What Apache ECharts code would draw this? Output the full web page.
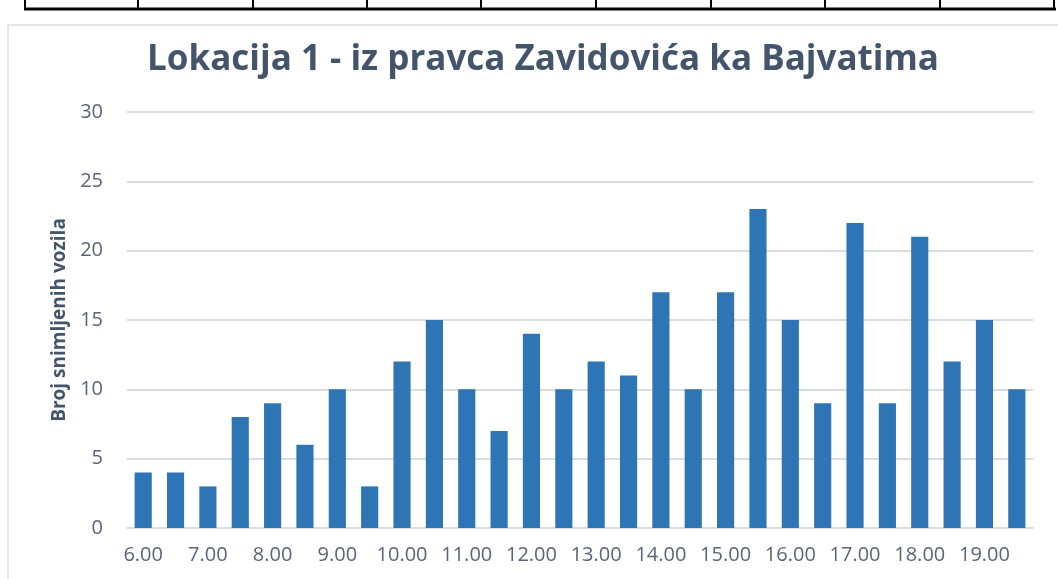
<!DOCTYPE html>
<html>
<head>
<meta charset="utf-8">
<script src="https://cdn.jsdelivr.net/npm/echarts@6/dist/echarts.min.js"></script>
<style>
  html, body { margin: 0; padding: 0; background: #fff; }
  #main { width: 1058px; height: 579px; }
</style>
</head>
<body>
<div id="main"></div>
<script>
// vremena (po pola sata) i broj vozila
var times = ['6.00','6.30','7.00','7.30','8.00','8.30','9.00','9.30','10.00','10.30',
  '11.00','11.30','12.00','12.30','13.00','13.30','14.00','14.30','15.00','15.30',
  '16.00','16.30','17.00','17.30','18.00','18.30','19.00','19.30'];
var vehicles = [4,4,3,8,9,6,10,3,12,15,10,7,14,10,12,11,17,10,17,23,15,9,22,9,21,12,15,10];
var yTicks = [0,5,10,15,20,25,30];

var myChart = echarts.init(document.getElementById('main'));

var labelColor = '#5b6577';
var font = '"Open Sans", sans-serif';

// gornja tabela (rub prethodne tabele u dokumentu)
var tableCols = [25,138,253,367,481,596,711,825,940,1054];
var graphics = [
  { type: 'rect', shape: { x: 8, y: 25, width: 1060, height: 570 },
    style: { fill: 'none', stroke: '#e2e4e8', lineWidth: 2 } },
  { type: 'line', shape: { x1: 24, y1: 9, x2: 1056, y2: 9 },
    style: { stroke: '#000', lineWidth: 3 } }
];
tableCols.forEach(function (x) {
  graphics.push({ type: 'line', shape: { x1: x, y1: 0, x2: x, y2: 9 },
    style: { stroke: '#000', lineWidth: 2 } });
});

var option = {
  animation: false,
  title: {
    text: 'Lokacija 1 - iz pravca Zavidovića ka Bajvatima',
    left: 538,
    textAlign: 'center',
    top: 38,
    textStyle: { fontFamily: font, fontWeight: 'bold', fontSize: 35, color: '#44546a' }
  },
  graphic: graphics,
  grid: { left: 127, right: 25, top: 112, bottom: 51 },
  xAxis: {
    type: 'category',
    data: times,
    axisLine: { lineStyle: { color: '#d9dce3', width: 2 } },
    axisTick: { show: false },
    axisLabel: {
      interval: 1,
      color: labelColor,
      fontFamily: font,
      fontSize: 20,
      margin: 17
    }
  },
  yAxis: {
    type: 'value',
    min: yTicks[0],
    max: yTicks[yTicks.length - 1],
    interval: 5,
    name: 'Broj snimljenih vozila',
    nameLocation: 'middle',
    nameGap: 57,
    nameTextStyle: { fontFamily: font, fontWeight: 'bold', fontSize: 19, color: '#44546a' },
    axisLine: { show: false },
    axisTick: { show: false },
    axisLabel: { color: labelColor, fontFamily: font, fontSize: 20, margin: 24 },
    splitLine: { lineStyle: { color: '#d9dce3', width: 2 } }
  },
  series: [{
    name: 'Broj vozila',
    type: 'bar',
    data: vehicles,
    barWidth: '53%',
    itemStyle: { color: '#2e75b6' }
  }]
};

myChart.setOption(option);
</script>
</body>
</html>
